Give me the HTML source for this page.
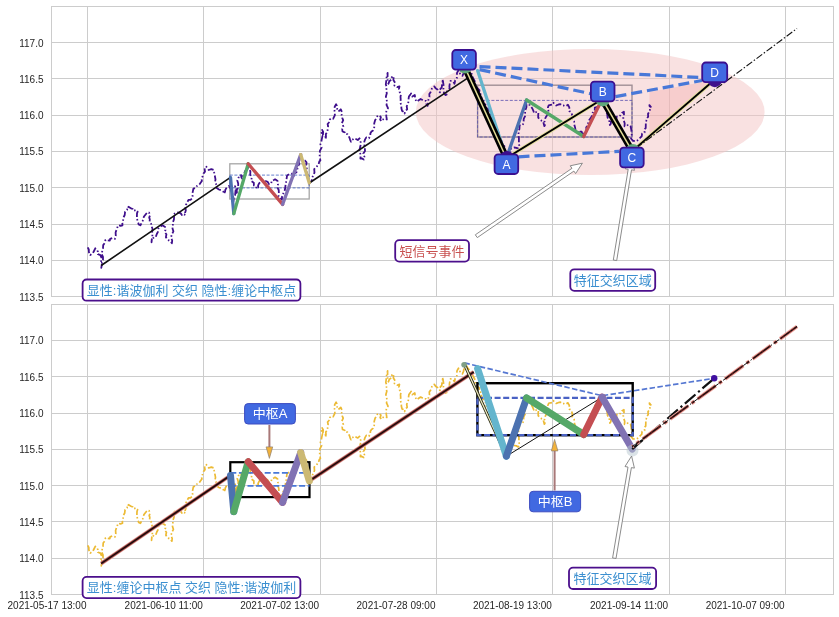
<!DOCTYPE html><html><head><meta charset="utf-8"><title>chart</title><style>html,body{margin:0;padding:0;background:#fff}svg{display:block}text{font-family:"Liberation Sans","Noto Sans CJK SC",sans-serif}</style></head><body>
<svg width="839" height="617" viewBox="0 0 839 617">
<rect width="839" height="617" fill="#fff"/>
<g stroke="#cccccc" stroke-width="1" fill="none" shape-rendering="crispEdges"><line x1="87.5" y1="6.4" x2="87.5" y2="296.6"/><line x1="203.8" y1="6.4" x2="203.8" y2="296.6"/><line x1="320.2" y1="6.4" x2="320.2" y2="296.6"/><line x1="436.5" y1="6.4" x2="436.5" y2="296.6"/><line x1="552.9" y1="6.4" x2="552.9" y2="296.6"/><line x1="669.2" y1="6.4" x2="669.2" y2="296.6"/><line x1="785.6" y1="6.4" x2="785.6" y2="296.6"/><line x1="51.5" y1="42.5" x2="833.5" y2="42.5"/><line x1="51.5" y1="78.8" x2="833.5" y2="78.8"/><line x1="51.5" y1="115.1" x2="833.5" y2="115.1"/><line x1="51.5" y1="151.4" x2="833.5" y2="151.4"/><line x1="51.5" y1="187.7" x2="833.5" y2="187.7"/><line x1="51.5" y1="224.0" x2="833.5" y2="224.0"/><line x1="51.5" y1="260.3" x2="833.5" y2="260.3"/><rect x="51.5" y="6.4" width="782" height="290.2"/></g>
<g stroke="#cccccc" stroke-width="1" fill="none" shape-rendering="crispEdges"><line x1="87.5" y1="304.3" x2="87.5" y2="594.5"/><line x1="203.8" y1="304.3" x2="203.8" y2="594.5"/><line x1="320.2" y1="304.3" x2="320.2" y2="594.5"/><line x1="436.5" y1="304.3" x2="436.5" y2="594.5"/><line x1="552.9" y1="304.3" x2="552.9" y2="594.5"/><line x1="669.2" y1="304.3" x2="669.2" y2="594.5"/><line x1="785.6" y1="304.3" x2="785.6" y2="594.5"/><line x1="51.5" y1="340.4" x2="833.5" y2="340.4"/><line x1="51.5" y1="376.7" x2="833.5" y2="376.7"/><line x1="51.5" y1="413.0" x2="833.5" y2="413.0"/><line x1="51.5" y1="449.3" x2="833.5" y2="449.3"/><line x1="51.5" y1="485.6" x2="833.5" y2="485.6"/><line x1="51.5" y1="521.9" x2="833.5" y2="521.9"/><line x1="51.5" y1="558.2" x2="833.5" y2="558.2"/><rect x="51.5" y="304.3" width="782" height="290.2"/></g>
<g font-size="10" fill="#262626" text-anchor="end">
<text x="43.5" y="46.5">117.0</text>
<text x="43.5" y="82.8">116.5</text>
<text x="43.5" y="119.1">116.0</text>
<text x="43.5" y="155.4">115.5</text>
<text x="43.5" y="191.7">115.0</text>
<text x="43.5" y="228.0">114.5</text>
<text x="43.5" y="264.3">114.0</text>
<text x="43.5" y="300.6">113.5</text>
<text x="43.5" y="344.4">117.0</text>
<text x="43.5" y="380.7">116.5</text>
<text x="43.5" y="417.0">116.0</text>
<text x="43.5" y="453.3">115.5</text>
<text x="43.5" y="489.6">115.0</text>
<text x="43.5" y="525.9">114.5</text>
<text x="43.5" y="562.2">114.0</text>
<text x="43.5" y="598.5">113.5</text>
<text x="86.5" y="608.6">2021-05-17 13:00</text>
<text x="202.8" y="608.6">2021-06-10 11:00</text>
<text x="319.2" y="608.6">2021-07-02 13:00</text>
<text x="435.5" y="608.6">2021-07-28 09:00</text>
<text x="551.9" y="608.6">2021-08-19 13:00</text>
<text x="668.2" y="608.6">2021-09-14 11:00</text>
<text x="784.6" y="608.6">2021-10-07 09:00</text>
</g>
<g id="top">
<ellipse cx="590.2" cy="112" rx="174.4" ry="63" fill="#f3c4c4" fill-opacity="0.5"/>
<polygon points="649.4,92.0 714.2,80.0 649.4,134.5" fill="#f2a6a6" fill-opacity="0.32"/>
<rect x="229.8" y="163.8" width="79.4" height="35.2" fill="none" stroke="#a6a6a6" stroke-width="1.3"/>
<rect x="229.8" y="175.1" width="79.4" height="12.8" fill="none" stroke="#3f5fc0" stroke-width="0.8" stroke-dasharray="3 1.6"/>
<rect x="477.6" y="85.2" width="154.4" height="51.8" fill="none" stroke="#a08f96" stroke-width="1.4"/>
<rect x="477.6" y="100.4" width="154.4" height="36.6" fill="none" stroke="#5a50b0" stroke-width="0.8" stroke-dasharray="3 1.6"/>
<path d="M87.7 247.4 L88.8 249.5 L88.9 252.2 L90.2 255.1 L92.8 253.4 L94.0 251.0 L95.3 248.3 L97.1 249.9 L97.9 251.8 L97.9 254.2 L100.4 255.1 L101.5 257.8 L101.0 261.8 L101.9 264.3 L101.3 267.8 L101.8 264.6 L101.9 262.4 L103.0 260.0 L103.0 256.9 L101.7 254.2 L102.3 250.7 L103.0 248.3 L103.2 245.1 L104.9 242.8 L105.5 239.8 L107.2 240.2 L109.8 240.6 L110.2 238.8 L112.3 238.1 L114.9 238.9 L115.8 235.9 L115.6 232.5 L116.6 229.5 L117.3 227.6 L118.3 225.3 L120.6 225.9 L122.5 225.3 L122.3 222.6 L123.2 219.8 L123.4 217.6 L124.7 215.0 L125.1 211.7 L127.1 209.9 L127.6 206.6 L129.6 207.4 L131.0 208.3 L132.8 209.0 L133.6 210.8 L136.1 210.0 L137.6 211.6 L137.0 213.4 L136.9 216.3 L137.0 218.9 L137.9 221.8 L138.7 224.4 L140.4 225.3 L141.7 222.6 L143.5 219.5 L143.8 216.8 L145.6 214.5 L147.2 212.5 L148.9 212.5 L150.2 214.9 L149.2 217.6 L149.8 219.3 L149.6 221.6 L151.2 224.0 L151.5 226.1 L152.5 228.8 L152.2 231.1 L152.4 234.5 L152.3 236.7 L151.7 240.0 L151.5 242.3 L151.9 239.4 L154.0 237.2 L155.7 237.2 L156.8 234.0 L158.2 231.4 L158.3 228.7 L160.0 226.7 L162.5 225.3 L165.1 227.0 L165.6 229.9 L164.5 231.8 L166.4 234.3 L165.9 237.2 L167.6 239.8 L170.1 241.0 L171.9 243.2 L172.2 240.5 L171.0 237.4 L171.9 234.3 L173.4 231.3 L172.5 228.5 L173.0 226.1 L172.7 222.7 L173.9 219.7 L174.1 216.9 L173.6 214.2 L175.5 213.2 L177.8 212.5 L180.5 213.1 L182.1 215.1 L183.3 214.1 L185.5 215.1 L185.1 212.8 L185.8 210.4 L185.4 207.6 L186.0 204.9 L187.2 202.3 L188.5 199.9 L190.5 199.9 L192.3 198.1 L192.6 196.3 L192.3 193.9 L192.8 191.6 L193.4 188.7 L196.0 187.7 L196.8 186.1 L199.4 184.4 L200.6 182.7 L201.9 181.0 L201.5 178.7 L202.7 176.1 L203.6 173.4 L205.0 171.7 L204.5 168.1 L206.2 166.6 L207.2 168.0 L208.7 170.0 L211.3 169.1 L213.8 170.0 L214.2 172.7 L215.0 176.7 L215.5 179.3 L215.0 182.4 L216.6 184.8 L216.4 187.8 L218.9 189.5 L221.5 190.4 L223.5 191.9 L224.0 193.8 L225.1 191.6 L225.3 189.9 L226.6 187.8 L228.9 186.2 L229.5 184.4 L229.5 187.1 L230.8 188.7 L230.7 191.6 L232.4 193.7 L232.6 195.8 L233.8 198.5 L233.4 201.5 L233.2 198.1 L235.1 195.5 L235.4 191.9 L235.7 189.4 L235.1 186.1 L236.2 188.0 L236.8 190.2 L236.8 192.9 L237.4 189.5 L238.2 186.9 L238.2 183.5 L237.3 180.4 L238.5 177.6 L240.6 176.8 L241.0 175.1 L241.4 177.4 L242.7 179.3 L243.0 176.0 L244.2 173.3 L245.3 170.8 L247.4 169.3 L247.8 166.6 L249.5 169.4 L250.4 171.7 L250.2 174.5 L251.7 177.5 L251.2 181.0 L253.8 182.7 L253.9 185.4 L256.3 186.7 L256.3 188.7 L258.2 187.3 L258.1 185.3 L259.1 183.4 L260.6 181.9 L263.2 180.2 L265.7 181.0 L267.6 181.8 L269.1 184.4 L271.3 183.2 L271.7 181.0 L273.8 180.0 L275.1 179.3 L277.6 181.0 L278.0 184.5 L277.2 186.9 L278.7 190.0 L278.9 193.3 L278.5 196.3 L280.5 197.6 L281.9 199.8 L282.1 196.2 L283.2 193.7 L284.7 190.5 L285.3 187.8 L285.6 184.4 L286.1 181.9 L286.5 179.4 L287.0 175.9 L288.3 174.7 L290.4 173.4 L293.0 174.0 L293.8 175.9 L294.3 173.6 L296.5 172.2 L297.2 170.0 L297.7 167.1 L299.1 164.2 L298.9 161.4 L300.6 158.9 L303.1 159.8 L305.0 160.5 L306.5 162.3 L306.2 165.4 L306.8 168.5 L306.3 171.3 L307.4 174.2 L307.7 177.4 L308.5 180.7 L309.1 183.6 L310.3 182.2 L311.6 181.0 L312.3 177.6 L313.4 174.8 L314.5 172.5 L314.2 169.1 L315.9 167.6 L316.7 166.6 L318.5 164.7 L319.3 161.5 L320.4 160.4 L319.7 157.3 L319.7 154.4 L319.9 150.8 L321.6 147.5 L320.4 144.5 L321.3 141.7 L321.8 139.1 L322.6 135.3 L321.3 132.2 L322.1 129.8 L323.2 132.0 L322.9 135.1 L325.3 136.5 L325.5 139.1 L326.0 136.7 L325.8 134.1 L327.4 132.0 L327.7 129.0 L328.1 126.3 L327.6 124.0 L329.5 121.9 L329.8 119.5 L331.7 118.1 L333.2 118.7 L334.8 115.4 L334.9 112.7 L334.4 110.0 L334.7 106.7 L336.1 104.2 L336.9 106.0 L337.2 109.1 L337.4 111.0 L339.2 110.9 L340.8 109.3 L342.1 112.5 L341.6 115.2 L342.2 117.8 L343.2 120.1 L341.9 123.2 L343.3 126.4 L342.2 129.0 L342.5 131.5 L344.7 132.3 L345.1 134.0 L347.5 134.2 L348.5 135.7 L349.4 137.5 L350.2 140.1 L351.0 141.7 L352.1 139.9 L354.4 138.3 L355.9 139.0 L357.8 140.0 L359.5 138.3 L360.5 140.8 L360.8 143.8 L360.3 146.8 L359.5 149.7 L360.1 152.5 L360.6 155.3 L360.4 158.7 L361.8 158.4 L363.8 159.5 L364.4 156.5 L363.3 153.6 L365.0 151.0 L364.8 147.7 L364.2 144.3 L364.3 141.7 L365.1 139.4 L366.3 137.4 L368.9 138.3 L370.3 135.7 L370.4 133.3 L371.5 131.5 L373.1 130.4 L374.0 128.9 L374.4 126.2 L374.2 123.5 L375.1 120.2 L376.6 117.8 L377.2 116.4 L379.1 115.3 L380.9 117.2 L380.1 119.7 L381.7 121.2 L382.4 119.8 L384.2 118.7 L386.8 119.5 L386.4 116.7 L386.1 113.9 L386.4 110.6 L388.0 108.2 L386.5 104.9 L387.1 102.5 L386.6 99.6 L385.9 96.5 L386.8 93.3 L386.2 90.3 L386.8 87.2 L385.8 84.5 L386.2 81.5 L386.2 79.0 L387.0 75.9 L387.6 72.8 L387.6 75.6 L387.5 78.5 L387.8 81.5 L388.5 83.8 L389.3 81.3 L391.6 79.5 L391.9 76.2 L393.6 77.0 L393.4 80.0 L395.2 82.9 L394.4 85.5 L397.0 87.2 L399.5 86.4 L398.9 89.1 L399.5 91.8 L401.0 94.0 L400.5 96.9 L400.7 99.1 L400.4 102.5 L401.3 105.5 L401.4 108.3 L402.1 111.0 L403.4 111.6 L404.6 113.6 L405.1 111.2 L407.2 109.3 L406.7 106.3 L408.0 104.1 L408.5 101.5 L408.5 99.6 L408.9 96.6 L410.4 94.5 L410.6 92.3 L411.4 94.5 L412.3 96.6 L414.8 94.9 L415.0 96.8 L415.4 99.3 L416.5 101.7 L419.1 100.0 L420.6 99.0 L422.5 100.0 L423.8 100.8 L425.9 100.8 L426.4 104.0 L427.6 105.9 L428.0 103.1 L428.4 99.8 L429.5 97.0 L429.3 94.0 L430.7 92.0 L431.8 88.9 L432.4 87.3 L434.4 86.4 L435.6 88.3 L437.8 89.8 L438.5 90.8 L440.0 92.3 L439.7 89.8 L441.8 87.3 L442.0 84.9 L442.6 82.3 L442.6 79.2 L442.9 81.5 L443.3 83.4 L443.7 86.1 L443.4 88.9 L443.9 92.7 L445.4 95.1 L447.7 94.0 L447.2 91.2 L449.6 88.4 L449.4 86.1 L449.8 83.7 L450.5 80.9 L453.3 81.5 L454.5 83.8 L455.2 80.3 L456.8 78.1 L456.7 75.2 L457.1 72.6 L458.5 70.2 L458.5 72.3 L460.7 74.1 L462.4 75.8 L463.5 73.3 L464.1 70.5 L463.6 67.9 L464.4 66.4 L466.8 68.2 L467.5 69.8 L469.5 72.0 L472.0 74.1 L472.6 77.1 L474.1 80.0 L475.5 82.7 L475.4 86.0 L477.4 88.3 L479.5 90.1 L479.1 92.9 L481.5 95.0 L481.4 97.8 L482.0 99.7 L483.7 102.0 L485.4 104.3 L485.8 107.6 L488.5 109.3 L489.8 112.0 L490.8 114.1 L492.1 117.4 L491.9 120.0 L493.9 122.7 L495.1 124.5 L495.9 127.2 L497.5 130.0 L498.8 133.0 L498.6 135.9 L500.2 138.0 L501.5 141.2 L502.1 143.8 L504.3 146.0 L504.4 148.7 L505.6 152.0 L505.5 155.1 L506.4 158.2 L508.0 156.0 L507.9 153.8 L510.3 152.0 L510.7 148.9 L512.2 148.2 L514.1 147.5 L516.6 147.9 L518.3 148.9 L519.5 146.5 L518.9 143.6 L518.9 140.8 L518.9 137.9 L518.4 135.1 L518.7 131.3 L519.4 128.9 L519.6 125.5 L522.2 125.4 L523.1 124.1 L523.6 121.7 L523.7 118.8 L525.2 115.8 L525.1 113.4 L525.2 110.5 L526.4 107.2 L526.5 104.8 L529.3 104.1 L529.8 105.8 L531.4 106.9 L532.5 108.9 L533.4 110.8 L534.1 113.1 L536.9 111.7 L538.4 112.9 L538.2 115.2 L538.2 117.6 L540.3 120.0 L543.1 121.4 L543.8 123.9 L544.4 126.2 L545.4 124.0 L544.4 121.3 L545.1 118.6 L546.0 116.8 L547.2 115.2 L548.5 112.4 L548.4 110.6 L547.9 107.6 L548.7 105.3 L550.7 104.8 L552.5 104.5 L553.4 102.7 L554.3 103.9 L556.2 105.5 L558.6 104.5 L560.3 104.1 L562.1 105.6 L563.7 105.5 L565.7 106.2 L567.9 104.8 L569.3 107.4 L569.3 111.0 L571.3 112.4 L572.3 115.6 L572.3 118.9 L574.1 121.4 L574.3 124.7 L575.1 127.4 L575.5 130.3 L577.8 131.2 L578.2 133.1 L580.1 131.7 L581.7 131.7 L582.3 133.7 L583.7 135.8 L583.8 133.7 L585.9 131.6 L586.5 129.6 L586.2 127.4 L587.9 124.7 L588.2 122.6 L589.2 120.0 L590.5 118.4 L592.0 115.8 L592.5 113.0 L594.8 110.5 L594.8 107.6 L597.9 106.9 L599.9 104.3 L603.2 103.2 L603.2 105.8 L605.1 106.7 L605.7 109.3 L606.4 112.1 L607.2 114.3 L607.6 117.7 L609.0 119.2 L609.5 122.3 L609.9 125.1 L610.8 123.7 L611.1 121.5 L612.1 123.3 L613.6 123.9 L614.5 121.8 L616.5 119.6 L616.6 116.6 L618.4 116.8 L620.3 115.4 L621.8 113.0 L623.9 111.7 L624.0 115.3 L623.3 117.8 L623.7 120.4 L624.7 123.3 L624.5 126.3 L626.6 125.9 L627.6 125.1 L629.3 125.0 L630.6 126.3 L631.3 129.8 L631.5 131.9 L631.8 135.3 L631.0 138.5 L633.0 140.9 L636.3 141.1 L638.5 139.7 L640.4 137.5 L641.7 136.3 L642.1 133.6 L644.6 132.4 L644.2 129.5 L645.7 128.1 L645.8 125.3 L645.8 122.7 L646.3 120.7 L646.6 118.8 L648.2 116.6 L648.0 113.8 L649.8 111.3 L650.1 108.3 L649.4 105.1 L651.3 107.5" fill="none" stroke="#3f0f8c" stroke-width="1.8" stroke-dasharray="6 2.2 1.5 2.2" stroke-linejoin="round"/>
<path d="M101.2 265.5 L230.5 177.4 M309.3 183.0 L467.2 78.4" fill="none" stroke="#111" stroke-width="1.6"/>
<line x1="230.5" y1="177.4" x2="233.8" y2="213.6" stroke="#4c72b0" stroke-width="3.3" stroke-linecap="round"/>
<line x1="233.8" y1="213.6" x2="248.2" y2="163.8" stroke="#55a868" stroke-width="3.3" stroke-linecap="round"/>
<line x1="248.2" y1="163.8" x2="282.6" y2="204.4" stroke="#c44e52" stroke-width="3.3" stroke-linecap="round"/>
<line x1="282.6" y1="204.4" x2="300.7" y2="154.6" stroke="#8172b3" stroke-width="3.3" stroke-linecap="round"/>
<line x1="300.7" y1="154.6" x2="309.3" y2="183.0" stroke="#ccb974" stroke-width="3.3" stroke-linecap="round"/>
<line x1="477.6" y1="70.6" x2="506.4" y2="158.2" stroke="#64b5cd" stroke-width="3.3" stroke-linecap="round"/>
<line x1="506.4" y1="158.2" x2="526.6" y2="100.0" stroke="#4c72b0" stroke-width="3.3" stroke-linecap="round"/>
<line x1="526.6" y1="100.0" x2="583.7" y2="136.5" stroke="#55a868" stroke-width="3.3" stroke-linecap="round"/>
<line x1="583.7" y1="136.5" x2="602.1" y2="99.2" stroke="#c44e52" stroke-width="3.3" stroke-linecap="round"/>
<line x1="479.5" y1="66.6" x2="702.0" y2="77.5" stroke="#4878d8" stroke-width="3.2" stroke-dasharray="11 5"/>
<line x1="479.5" y1="69.6" x2="591.0" y2="93.8" stroke="#4878d8" stroke-width="3.2" stroke-dasharray="11 5"/>
<line x1="615.5" y1="96.6" x2="702.0" y2="80.5" stroke="#4878d8" stroke-width="3.2" stroke-dasharray="11 5"/>
<line x1="518.5" y1="156.8" x2="619.0" y2="151.4" stroke="#4878d8" stroke-width="3.2" stroke-dasharray="11 5"/>
<line x1="464.4" y1="66.4" x2="506.4" y2="158.2" stroke="#000" stroke-width="6.6"/>
<line x1="464.4" y1="66.4" x2="506.4" y2="158.2" stroke="#e4dd98" stroke-width="1.5"/>
<line x1="602.1" y1="99.2" x2="632.2" y2="151.1" stroke="#000" stroke-width="6.6"/>
<line x1="602.1" y1="99.2" x2="632.2" y2="151.1" stroke="#e4dd98" stroke-width="1.5"/>
<line x1="506.4" y1="158.2" x2="602.1" y2="99.2" stroke="#e6e0a0" stroke-width="3.8"/>
<line x1="506.4" y1="158.2" x2="602.1" y2="99.2" stroke="#000" stroke-width="1.9"/>
<line x1="632.2" y1="151.1" x2="714.2" y2="80.0" stroke="#e6e0a0" stroke-width="3.8"/>
<line x1="632.2" y1="151.1" x2="714.2" y2="80.0" stroke="#000" stroke-width="1.9"/>
<line x1="636.2" y1="148.1" x2="797.0" y2="28.5" stroke="#111" stroke-width="1.1" stroke-dasharray="7 2 1.5 2"/>
<circle cx="465.0" cy="66.4" r="7.2" fill="#5fa87a"/>
<circle cx="602.7" cy="99.2" r="7.2" fill="#5fa87a"/>
<circle cx="632.8" cy="151.1" r="7.2" fill="#5fa87a"/>
<circle cx="507.0" cy="158.2" r="7.2" fill="#3f0f8c"/>
<circle cx="714.8" cy="80.0" r="7.2" fill="#3f0f8c"/>
<polygon points="477.3,237.6 573.9,171.1 575.6,173.6 582.4,163.2 570.2,165.8 572.0,168.3 475.3,234.8" fill="#fff" stroke="#7f7f7f" stroke-width="0.9" stroke-linejoin="miter"/>
<polygon points="616.7,260.6 631.5,169.8 634.5,170.3 631.7,158.2 625.2,168.8 628.2,169.3 613.3,260.0" fill="#fff" stroke="#7f7f7f" stroke-width="0.9" stroke-linejoin="miter"/>
<rect x="452.3" y="50.0" width="23.6" height="19.6" rx="3.5" fill="#4169e1" stroke="#3b0f8f" stroke-width="1.8"/><text x="464.1" y="64.2" font-size="12" fill="#fff" text-anchor="middle">X</text>
<rect x="494.6" y="154.4" width="23.6" height="19.6" rx="3.5" fill="#4169e1" stroke="#3b0f8f" stroke-width="1.8"/><text x="506.4" y="168.6" font-size="12" fill="#fff" text-anchor="middle">A</text>
<rect x="590.9" y="81.7" width="23.6" height="19.6" rx="3.5" fill="#4169e1" stroke="#3b0f8f" stroke-width="1.8"/><text x="602.7" y="95.8" font-size="12" fill="#fff" text-anchor="middle">B</text>
<rect x="620.1" y="147.7" width="23.6" height="19.6" rx="3.5" fill="#4169e1" stroke="#3b0f8f" stroke-width="1.8"/><text x="631.9" y="161.8" font-size="12" fill="#fff" text-anchor="middle">C</text>
<rect x="702.2" y="62.5" width="25.0" height="19.6" rx="3.5" fill="#4169e1" stroke="#3b0f8f" stroke-width="1.8"/><text x="714.7" y="76.6" font-size="12" fill="#fff" text-anchor="middle">D</text>
<rect x="395.2" y="240.2" width="73.8" height="21.4" rx="4" fill="#fff" stroke="#4b0f8c" stroke-width="1.8"/><text x="432.1" y="255.5" font-size="13" fill="#c8504f" text-anchor="middle">短信号事件</text>
<rect x="570.3" y="269.3" width="84.9" height="21.5" rx="4" fill="#fff" stroke="#4b0f8c" stroke-width="1.8"/><text x="612.8" y="284.7" font-size="13" fill="#3b8fd0" text-anchor="middle">特征交织区域</text>
<rect x="82.6" y="279.5" width="217.8" height="21.2" rx="4" fill="#fff" stroke="#4b0f8c" stroke-width="1.8"/><text x="191.5" y="294.7" font-size="13" fill="#3b8fd0" text-anchor="middle">显性:谐波伽利 交织 隐性:缠论中枢点</text>
</g>
<g id="bot">
<path d="M87.7 545.4 L88.8 547.5 L88.9 550.2 L90.2 553.1 L92.8 551.4 L94.0 549.0 L95.3 546.3 L97.1 547.9 L97.9 549.8 L97.9 552.2 L100.4 553.1 L101.5 555.8 L101.0 559.8 L101.9 562.3 L101.3 565.8 L101.8 562.6 L101.9 560.4 L103.0 558.0 L103.0 554.9 L101.7 552.2 L102.3 548.7 L103.0 546.3 L103.2 543.1 L104.9 540.8 L105.5 537.8 L107.2 538.2 L109.8 538.6 L110.2 536.8 L112.3 536.1 L114.9 536.9 L115.8 533.9 L115.6 530.5 L116.6 527.5 L117.3 525.6 L118.3 523.3 L120.6 523.9 L122.5 523.3 L122.3 520.6 L123.2 517.8 L123.4 515.6 L124.7 513.0 L125.1 509.7 L127.1 507.9 L127.6 504.6 L129.6 505.4 L131.0 506.3 L132.8 507.0 L133.6 508.8 L136.1 508.0 L137.6 509.6 L137.0 511.4 L136.9 514.3 L137.0 516.9 L137.9 519.8 L138.7 522.4 L140.4 523.3 L141.7 520.6 L143.5 517.5 L143.8 514.8 L145.6 512.5 L147.2 510.5 L148.9 510.5 L150.2 512.9 L149.2 515.6 L149.8 517.3 L149.6 519.6 L151.2 522.0 L151.5 524.1 L152.5 526.8 L152.2 529.1 L152.4 532.5 L152.3 534.7 L151.7 538.0 L151.5 540.3 L151.9 537.4 L154.0 535.2 L155.7 535.2 L156.8 532.0 L158.2 529.4 L158.3 526.7 L160.0 524.7 L162.5 523.3 L165.1 525.0 L165.6 527.9 L164.5 529.8 L166.4 532.3 L165.9 535.2 L167.6 537.8 L170.1 539.0 L171.9 541.2 L172.2 538.5 L171.0 535.4 L171.9 532.3 L173.4 529.3 L172.5 526.5 L173.0 524.1 L172.7 520.7 L173.9 517.7 L174.1 514.9 L173.6 512.2 L175.5 511.2 L177.8 510.5 L180.5 511.1 L182.1 513.1 L183.3 512.1 L185.5 513.1 L185.1 510.8 L185.8 508.4 L185.4 505.6 L186.0 502.9 L187.2 500.3 L188.5 497.9 L190.5 497.9 L192.3 496.1 L192.6 494.3 L192.3 491.9 L192.8 489.6 L193.4 486.7 L196.0 485.7 L196.8 484.1 L199.4 482.4 L200.6 480.7 L201.9 479.0 L201.5 476.7 L202.7 474.1 L203.6 471.4 L205.0 469.7 L204.5 466.1 L206.2 464.6 L207.2 466.0 L208.7 468.0 L211.3 467.1 L213.8 468.0 L214.2 470.7 L215.0 474.7 L215.5 477.3 L215.0 480.4 L216.6 482.8 L216.4 485.8 L218.9 487.5 L221.5 488.4 L223.5 489.9 L224.0 491.8 L225.1 489.6 L225.3 487.9 L226.6 485.8 L228.9 484.2 L229.5 482.4 L229.5 485.1 L230.8 486.7 L230.7 489.6 L232.4 491.7 L232.6 493.8 L233.8 496.5 L233.4 499.5 L233.2 496.1 L235.1 493.5 L235.4 489.9 L235.7 487.4 L235.1 484.1 L236.2 486.0 L236.8 488.2 L236.8 490.9 L237.4 487.5 L238.2 484.9 L238.2 481.5 L237.3 478.4 L238.5 475.6 L240.6 474.8 L241.0 473.1 L241.4 475.4 L242.7 477.3 L243.0 474.0 L244.2 471.3 L245.3 468.8 L247.4 467.3 L247.8 464.6 L249.5 467.4 L250.4 469.7 L250.2 472.5 L251.7 475.5 L251.2 479.0 L253.8 480.7 L253.9 483.4 L256.3 484.7 L256.3 486.7 L258.2 485.3 L258.1 483.3 L259.1 481.4 L260.6 479.9 L263.2 478.2 L265.7 479.0 L267.6 479.8 L269.1 482.4 L271.3 481.2 L271.7 479.0 L273.8 478.0 L275.1 477.3 L277.6 479.0 L278.0 482.5 L277.2 484.9 L278.7 488.0 L278.9 491.3 L278.5 494.3 L280.5 495.6 L281.9 497.8 L282.1 494.2 L283.2 491.7 L284.7 488.5 L285.3 485.8 L285.6 482.4 L286.1 479.9 L286.5 477.4 L287.0 473.9 L288.3 472.7 L290.4 471.4 L293.0 472.0 L293.8 473.9 L294.3 471.6 L296.5 470.2 L297.2 468.0 L297.7 465.1 L299.1 462.2 L298.9 459.4 L300.6 456.9 L303.1 457.8 L305.0 458.5 L306.5 460.3 L306.2 463.4 L306.8 466.5 L306.3 469.3 L307.4 472.2 L307.7 475.4 L308.5 478.7 L309.1 481.6 L310.3 480.2 L311.6 479.0 L312.3 475.6 L313.4 472.8 L314.5 470.5 L314.2 467.1 L315.9 465.6 L316.7 464.6 L318.5 462.7 L319.3 459.5 L320.4 458.4 L319.7 455.3 L319.7 452.4 L319.9 448.8 L321.6 445.5 L320.4 442.5 L321.3 439.7 L321.8 437.1 L322.6 433.3 L321.3 430.2 L322.1 427.8 L323.2 430.0 L322.9 433.1 L325.3 434.5 L325.5 437.1 L326.0 434.7 L325.8 432.1 L327.4 430.0 L327.7 427.0 L328.1 424.3 L327.6 422.0 L329.5 419.9 L329.8 417.5 L331.7 416.1 L333.2 416.7 L334.8 413.4 L334.9 410.7 L334.4 408.0 L334.7 404.7 L336.1 402.2 L336.9 404.0 L337.2 407.1 L337.4 409.0 L339.2 408.9 L340.8 407.3 L342.1 410.5 L341.6 413.2 L342.2 415.8 L343.2 418.1 L341.9 421.2 L343.3 424.4 L342.2 427.0 L342.5 429.5 L344.7 430.3 L345.1 432.0 L347.5 432.2 L348.5 433.7 L349.4 435.5 L350.2 438.1 L351.0 439.7 L352.1 437.9 L354.4 436.3 L355.9 437.0 L357.8 438.0 L359.5 436.3 L360.5 438.8 L360.8 441.8 L360.3 444.8 L359.5 447.7 L360.1 450.5 L360.6 453.3 L360.4 456.7 L361.8 456.4 L363.8 457.5 L364.4 454.5 L363.3 451.6 L365.0 449.0 L364.8 445.7 L364.2 442.3 L364.3 439.7 L365.1 437.4 L366.3 435.4 L368.9 436.3 L370.3 433.7 L370.4 431.3 L371.5 429.5 L373.1 428.4 L374.0 426.9 L374.4 424.2 L374.2 421.5 L375.1 418.2 L376.6 415.8 L377.2 414.4 L379.1 413.3 L380.9 415.2 L380.1 417.7 L381.7 419.2 L382.4 417.8 L384.2 416.7 L386.8 417.5 L386.4 414.7 L386.1 411.9 L386.4 408.6 L388.0 406.2 L386.5 402.9 L387.1 400.5 L386.6 397.6 L385.9 394.5 L386.8 391.3 L386.2 388.3 L386.8 385.2 L385.8 382.5 L386.2 379.5 L386.2 377.0 L387.0 373.9 L387.6 370.8 L387.6 373.6 L387.5 376.5 L387.8 379.5 L388.5 381.8 L389.3 379.3 L391.6 377.5 L391.9 374.2 L393.6 375.0 L393.4 378.0 L395.2 380.9 L394.4 383.5 L397.0 385.2 L399.5 384.4 L398.9 387.1 L399.5 389.8 L401.0 392.0 L400.5 394.9 L400.7 397.1 L400.4 400.5 L401.3 403.5 L401.4 406.3 L402.1 409.0 L403.4 409.6 L404.6 411.6 L405.1 409.2 L407.2 407.3 L406.7 404.3 L408.0 402.1 L408.5 399.5 L408.5 397.6 L408.9 394.6 L410.4 392.5 L410.6 390.3 L411.4 392.5 L412.3 394.6 L414.8 392.9 L415.0 394.8 L415.4 397.3 L416.5 399.7 L419.1 398.0 L420.6 397.0 L422.5 398.0 L423.8 398.8 L425.9 398.8 L426.4 402.0 L427.6 403.9 L428.0 401.1 L428.4 397.8 L429.5 395.0 L429.3 392.0 L430.7 390.0 L431.8 386.9 L432.4 385.3 L434.4 384.4 L435.6 386.3 L437.8 387.8 L438.5 388.8 L440.0 390.3 L439.7 387.8 L441.8 385.3 L442.0 382.9 L442.6 380.3 L442.6 377.2 L442.9 379.5 L443.3 381.4 L443.7 384.1 L443.4 386.9 L443.9 390.7 L445.4 393.1 L447.7 392.0 L447.2 389.2 L449.6 386.4 L449.4 384.1 L449.8 381.7 L450.5 378.9 L453.3 379.5 L454.5 381.8 L455.2 378.3 L456.8 376.1 L456.7 373.2 L457.1 370.6 L458.5 368.2 L458.5 370.3 L460.7 372.1 L462.4 373.8 L463.5 371.3 L464.1 368.5 L463.6 365.9 L464.4 364.4 L466.8 366.2 L467.5 367.8 L469.5 370.0 L472.0 372.1 L472.6 375.1 L474.1 378.0 L475.5 380.7 L475.4 384.0 L477.4 386.3 L479.5 388.1 L479.1 390.9 L481.5 393.0 L481.4 395.8 L482.0 397.7 L483.7 400.0 L485.4 402.3 L485.8 405.6 L488.5 407.3 L489.8 410.0 L490.8 412.1 L492.1 415.4 L491.9 418.0 L493.9 420.7 L495.1 422.5 L495.9 425.2 L497.5 428.0 L498.8 431.0 L498.6 433.9 L500.2 436.0 L501.5 439.2 L502.1 441.8 L504.3 444.0 L504.4 446.7 L505.6 450.0 L505.5 453.1 L506.4 456.2 L508.0 454.0 L507.9 451.8 L510.3 450.0 L510.7 446.9 L512.2 446.2 L514.1 445.5 L516.6 445.9 L518.3 446.9 L519.5 444.5 L518.9 441.6 L518.9 438.8 L518.9 435.9 L518.4 433.1 L518.7 429.3 L519.4 426.9 L519.6 423.5 L522.2 423.4 L523.1 422.1 L523.6 419.7 L523.7 416.8 L525.2 413.8 L525.1 411.4 L525.2 408.5 L526.4 405.2 L526.5 402.8 L529.3 402.1 L529.8 403.8 L531.4 404.9 L532.5 406.9 L533.4 408.8 L534.1 411.1 L536.9 409.7 L538.4 410.9 L538.2 413.2 L538.2 415.6 L540.3 418.0 L543.1 419.4 L543.8 421.9 L544.4 424.2 L545.4 422.0 L544.4 419.3 L545.1 416.6 L546.0 414.8 L547.2 413.2 L548.5 410.4 L548.4 408.6 L547.9 405.6 L548.7 403.3 L550.7 402.8 L552.5 402.5 L553.4 400.7 L554.3 401.9 L556.2 403.5 L558.6 402.5 L560.3 402.1 L562.1 403.6 L563.7 403.5 L565.7 404.2 L567.9 402.8 L569.3 405.4 L569.3 409.0 L571.3 410.4 L572.3 413.6 L572.3 416.9 L574.1 419.4 L574.3 422.7 L575.1 425.4 L575.5 428.3 L577.8 429.2 L578.2 431.1 L580.1 429.7 L581.7 429.7 L582.3 431.7 L583.7 433.8 L583.8 431.7 L585.9 429.6 L586.5 427.6 L586.2 425.4 L587.9 422.7 L588.2 420.6 L589.2 418.0 L590.5 416.4 L592.0 413.8 L592.5 411.0 L594.8 408.5 L594.8 405.6 L597.9 404.9 L599.9 402.3 L603.2 401.2 L603.2 403.8 L605.1 404.7 L605.7 407.3 L606.4 410.1 L607.2 412.3 L607.6 415.7 L609.0 417.2 L609.5 420.3 L609.9 423.1 L610.8 421.7 L611.1 419.5 L612.1 421.3 L613.6 421.9 L614.5 419.8 L616.5 417.6 L616.6 414.6 L618.4 414.8 L620.3 413.4 L621.8 411.0 L623.9 409.7 L624.0 413.3 L623.3 415.8 L623.7 418.4 L624.7 421.3 L624.5 424.3 L626.6 423.9 L627.6 423.1 L629.3 423.0 L630.6 424.3 L631.3 427.8 L631.5 429.9 L631.8 433.3 L631.0 436.5 L633.0 438.9 L636.3 439.1 L638.5 437.7 L640.4 435.5 L641.7 434.3 L642.1 431.6 L644.6 430.4 L644.2 427.5 L645.7 426.1 L645.8 423.3 L645.8 420.7 L646.3 418.7 L646.6 416.8 L648.2 414.6 L648.0 411.8 L649.8 409.3 L650.1 406.3 L649.4 403.1 L651.3 405.5" fill="none" stroke="#ecba34" stroke-width="1.7" stroke-dasharray="6 2.2 1.5 2.2" stroke-linejoin="round"/>
<path d="M101.2 563.5 L230.5 475.4 M309.3 481.0 L473.7 372.0" fill="none" stroke="#f0b8b0" stroke-width="4"/>
<path d="M101.2 563.5 L230.5 475.4 M309.3 481.0 L473.7 372.0" fill="none" stroke="#8e3a3a" stroke-width="2.8"/>
<path d="M101.2 563.5 L230.5 475.4 M309.3 481.0 L473.7 372.0" fill="none" stroke="#120808" stroke-width="1.3"/>
<rect x="230.3" y="462.2" width="79.2" height="34.9" fill="none" stroke="#000" stroke-width="2.2"/>
<path d="M230.3 472.8 H309.5 M230.3 485.8 H309.5" fill="none" stroke="#4878d8" stroke-width="1.8" stroke-dasharray="6 2.6"/>
<rect x="477.4" y="383.2" width="155.3" height="52" fill="none" stroke="#000" stroke-width="2.4"/>
<rect x="477.4" y="397.8" width="155.3" height="37.4" fill="none" stroke="#4a62c4" stroke-width="2.2" stroke-dasharray="6 2.6"/>
<line x1="464.4" y1="364.4" x2="506.4" y2="456.2" stroke="#2a2a10" stroke-width="3"/>
<line x1="464.4" y1="364.4" x2="506.4" y2="456.2" stroke="#f2efc8" stroke-width="1.2"/>
<line x1="506.4" y1="456.2" x2="602.1" y2="397.2" stroke="#111" stroke-width="1"/>
<path d="M464.4 362.9 L602.1 395.7 L714.2 378.3" fill="none" stroke="#5577d2" stroke-width="1.7" stroke-dasharray="5.5 2.4"/>
<line x1="230.5" y1="475.4" x2="233.8" y2="511.6" stroke="#4c72b0" stroke-width="7" stroke-linecap="round"/>
<line x1="233.8" y1="511.6" x2="248.2" y2="461.8" stroke="#55a868" stroke-width="7" stroke-linecap="round"/>
<line x1="248.2" y1="461.8" x2="282.6" y2="502.4" stroke="#c44e52" stroke-width="7" stroke-linecap="round"/>
<line x1="282.6" y1="502.4" x2="300.7" y2="452.6" stroke="#8172b3" stroke-width="7" stroke-linecap="round"/>
<line x1="300.7" y1="452.6" x2="309.3" y2="481.0" stroke="#ccb974" stroke-width="7" stroke-linecap="round"/>
<line x1="477.6" y1="368.6" x2="506.4" y2="456.2" stroke="#64b5cd" stroke-width="7" stroke-linecap="round"/>
<line x1="506.4" y1="456.2" x2="526.6" y2="398.0" stroke="#4c72b0" stroke-width="7" stroke-linecap="round"/>
<line x1="526.6" y1="398.0" x2="583.7" y2="434.5" stroke="#55a868" stroke-width="7" stroke-linecap="round"/>
<line x1="583.7" y1="434.5" x2="602.1" y2="397.2" stroke="#c44e52" stroke-width="7" stroke-linecap="round"/>
<line x1="602.1" y1="397.2" x2="632.2" y2="449.1" stroke="#8172b3" stroke-width="7" stroke-linecap="round"/>
<circle cx="632.5" cy="450.6" r="6" fill="#b8c8d0" fill-opacity="0.5"/>
<circle cx="464.1" cy="364.8" r="2.8" fill="#7f9f86"/>
<line x1="632.2" y1="449.1" x2="714.2" y2="378.3" stroke="#111" stroke-width="2.2" stroke-dasharray="14 3.5 2.2 3.5"/>
<line x1="632.2" y1="446.6" x2="797.0" y2="326.5" stroke="#f0a8a0" stroke-width="3.8" stroke-dasharray="22.6 3.9 3.6 3.9" stroke-dashoffset="21.1"/>
<line x1="632.2" y1="446.6" x2="797.0" y2="326.5" stroke="#5e1c1c" stroke-width="2" stroke-dasharray="22 4.5 3 4.5" stroke-dashoffset="20.8"/>
<line x1="632.2" y1="446.6" x2="797.0" y2="326.5" stroke="#111" stroke-width="1" stroke-dasharray="7 2 1.5 2"/>
<circle cx="714.2" cy="378.2" r="3.2" fill="#3f0fa0"/>
<line x1="269.4" y1="425.0" x2="269.4" y2="448.4" stroke="#a87878" stroke-width="2"/><polygon points="266.1,446.9 272.7,446.9 269.4,458.4" fill="#f2b23a" stroke="#8f7f70" stroke-width="0.7"/>
<line x1="554.6" y1="490.5" x2="554.6" y2="449.4" stroke="#a87878" stroke-width="2"/><polygon points="551.3,450.9 557.9,450.9 554.6,439.4" fill="#f2b23a" stroke="#8f7f70" stroke-width="0.7"/>
<rect x="244.6" y="403.6" width="50.8" height="20.4" rx="3.5" fill="#4169e1" stroke="#3c4cc0" stroke-width="1"/><text x="270.0" y="418.4" font-size="13" fill="#fff" text-anchor="middle">中枢A</text>
<rect x="529.6" y="491.3" width="51.0" height="20.5" rx="3.5" fill="#4169e1" stroke="#3c4cc0" stroke-width="1"/><text x="555.1" y="506.2" font-size="13" fill="#fff" text-anchor="middle">中枢B</text>
<polygon points="616.0,558.5 631.4,467.6 634.4,468.1 631.6,456.0 625.0,466.5 628.0,467.1 612.6,557.9" fill="#fff" stroke="#7f7f7f" stroke-width="0.9" stroke-linejoin="miter"/>
<rect x="569.0" y="567.6" width="87.1" height="21.4" rx="4" fill="#fff" stroke="#4b0f8c" stroke-width="1.8"/><text x="612.5" y="582.9" font-size="13" fill="#3b8fd0" text-anchor="middle">特征交织区域</text>
<rect x="82.6" y="576.9" width="217.8" height="21.2" rx="4" fill="#fff" stroke="#4b0f8c" stroke-width="1.8"/><text x="191.5" y="592.1" font-size="13" fill="#3b8fd0" text-anchor="middle">显性:缠论中枢点 交织 隐性:谐波伽利</text>
</g>
</svg></body></html>
